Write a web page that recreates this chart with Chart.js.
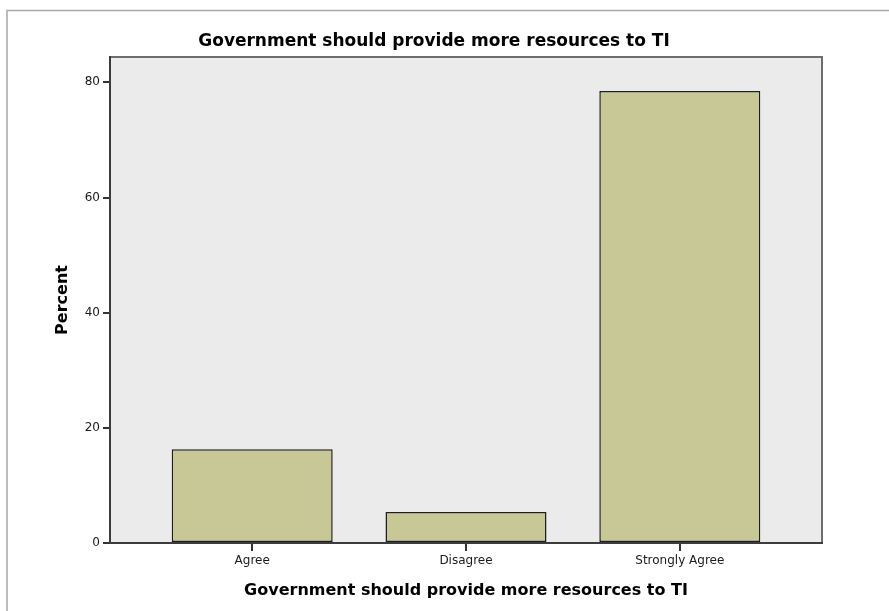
<!DOCTYPE html>
<html>
<head>
<meta charset="utf-8">
<script src="https://cdn.jsdelivr.net/npm/chart.js@4/dist/chart.umd.min.js"></script>
<style>
  html, body { margin: 0; padding: 0; background: #ffffff; }
  #wrap { width: 889px; height: 611px; position: relative; }
</style>
</head>
<body>
<div id="wrap"><canvas id="c" width="889" height="611"></canvas></div>
<script>
const chartTitle = "Government should provide more resources to TI";
const xAxisTitle = "Government should provide more resources to TI";
const yAxisTitle = "Percent";
const categories = ["Agree", "Disagree", "Strongly Agree"];
const percents = [16.3, 5.4, 78.5];
const yTicks = [0, 20, 40, 60, 80];

const framePlugin = {
  id: 'framePlugin',
  beforeDraw(chart) {
    const ctx = chart.ctx;
    const a = chart.chartArea;
    ctx.save();
    ctx.strokeStyle = '#a8a8a8';
    ctx.lineWidth = 1.5;
    ctx.beginPath();
    ctx.moveTo(7, chart.height);
    ctx.lineTo(7, 10.5);
    ctx.lineTo(chart.width, 10.5);
    ctx.stroke();
    ctx.fillStyle = '#ebebeb';
    ctx.fillRect(a.left, a.top, a.right - a.left, a.bottom - a.top);
    ctx.strokeStyle = '#6e6e6e';
    ctx.lineWidth = 2;
    ctx.beginPath();
    ctx.moveTo(a.left, a.top);
    ctx.lineTo(a.right, a.top);
    ctx.lineTo(a.right, a.bottom);
    ctx.stroke();
    ctx.fillStyle = '#000000';
    ctx.font = 'bold 17px "DejaVu Sans"';
    ctx.textAlign = 'center';
    ctx.textBaseline = 'alphabetic';
    ctx.fillText(chartTitle, 434, 46);
    ctx.restore();
  }
};

new Chart(document.getElementById('c'), {
  type: 'bar',
  data: {
    datasets: [{
      data: categories.map((c, i) => ({ x: i + 1, y: percents[i] })),
      backgroundColor: '#c8c896',
      borderColor: '#1e1e1e',
      borderWidth: 1.5,
      borderSkipped: false,
      categoryPercentage: 0.753,
      barPercentage: 1
    }]
  },
  options: {
    responsive: false,
    animation: false,
    devicePixelRatio: 1,
    layout: { padding: { top: 57, right: 67, left: 0, bottom: 0 } },
    plugins: {
      legend: { display: false },
      tooltip: { enabled: false },
      title: { display: false }
    },
    scales: {
      x: {
        type: 'linear',
        offset: false,
        min: 0.335,
        max: 3.665,
        afterBuildTicks(scale) { scale.ticks = categories.map((c, i) => ({ value: i + 1 })); },
        afterFit(scale) { scale.height = 68; },
        ticks: {
          callback: (v) => categories[Math.round(v) - 1] || '',
          font: { family: 'DejaVu Sans', size: 12 },
          color: '#1a1a1a',
          padding: 3,
          maxRotation: 0,
          autoSkip: false
        },
        grid: { display: true, offset: false, drawOnChartArea: false, drawTicks: true, tickLength: 8, color: '#333333', lineWidth: 2 },
        border: { display: true, color: '#3c3c3c', width: 2 },
        title: {
          display: true,
          text: xAxisTitle,
          font: { family: 'DejaVu Sans', size: 16, weight: 'bold' },
          color: '#000000',
          padding: { top: 0, bottom: 11 }
        }
      },
      y: {
        min: 0,
        max: 84.4,
        afterBuildTicks(scale) { scale.ticks = yTicks.map(v => ({ value: v })); },
        afterFit(scale) { scale.width = 110; },
        ticks: {
          font: { family: 'DejaVu Sans', size: 12 },
          color: '#1a1a1a',
          padding: 3
        },
        grid: { display: true, drawOnChartArea: false, drawTicks: true, tickLength: 7, color: '#333333', lineWidth: 2 },
        border: { display: true, color: '#3c3c3c', width: 2 },
        title: {
          display: true,
          text: yAxisTitle,
          font: { family: 'DejaVu Sans', size: 16, weight: 'bold' },
          color: '#000000',
          padding: { top: 53, bottom: 0 }
        }
      }
    }
  },
  plugins: [framePlugin]
});
</script>
</body>
</html>
